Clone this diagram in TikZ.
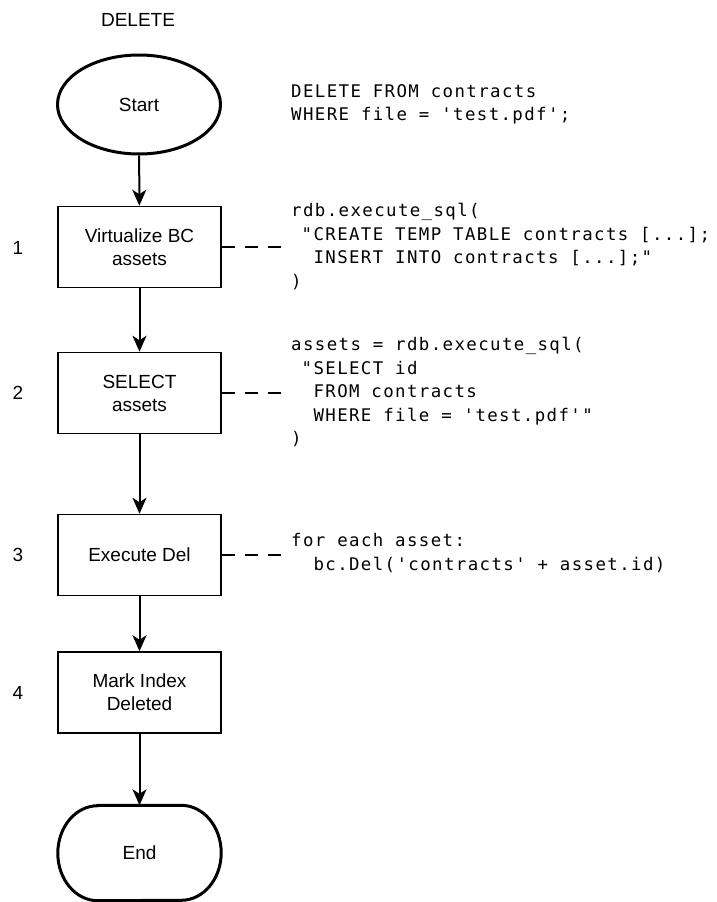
\documentclass[tikz,border=0pt]{standalone}
\usepackage{fontspec}
\setmainfont{Liberation Sans}
\setmonofont{DejaVu Sans Mono}[LetterSpace=8]
\usetikzlibrary{arrows.meta,shapes.geometric}

\begin{document}
\begin{tikzpicture}[x=1pt,y=-1pt,
  label text/.style={font=\fontsize{19}{23}\selectfont, inner sep=0pt},
  terminal/.style={draw, line width=3pt, ellipse, inner sep=0pt,
    minimum width=163pt, minimum height=99pt, font=\fontsize{19}{23}\selectfont},
  stadium/.style={rectangle, inner sep=0pt,
    minimum width=163pt, minimum height=95pt, font=\fontsize{19}{23}\selectfont},
  stadium outline/.style={line width=3pt},
  stepbox/.style={draw, line width=1.5pt, rectangle, inner sep=0pt, align=center,
    minimum width=163pt, minimum height=81pt, font=\fontsize{19}{23}\selectfont},
  codeblock/.style={anchor=west, inner sep=0pt, align=left,
    font=\ttfamily\fontsize{17.4}{23.5}\selectfont},
  flow/.style={line width=2pt, -{Stealth[length=16pt,width=14pt,inset=4.5pt]}},
  note/.style={line width=1.5pt, dash pattern=on 13pt off 10pt, shorten >=9pt},
]
\useasboundingbox (0,0) rectangle (716,902);

% title
\node[label text] (title) at (138,20) {DELETE};

% flow nodes
\node[terminal] (start) at (139,104.5) {Start};
\node[stepbox] (s1) at (139.5,247) {Virtualize BC\\assets};
\node[stepbox] (s2) at (139.5,393) {SELECT\\assets};
\node[stepbox] (s3) at (139.5,555) {Execute Del};
\node[stepbox] (s4) at (139.5,692.5) {Mark Index\\Deleted};
\node[stadium] (end) at (139.5,853) {End};
% end terminator: flat top and bottom, elliptical sides
\draw[stadium outline]
  ([xshift=40pt]end.north west) -- ([xshift=-40pt]end.north east)
  arc[start angle=90, end angle=-90, x radius=40pt, y radius=47.5pt]
  -- ([xshift=40pt]end.south west)
  arc[start angle=270, end angle=90, x radius=40pt, y radius=47.5pt]
  -- cycle;

% step numbers
\node[label text] (n1) at (18,248) {1};
\node[label text] (n2) at (18,393) {2};
\node[label text] (n3) at (18,555) {3};
\node[label text] (n4) at (18,692.5) {4};

% code snippets
\node[codeblock] (c0) at (291,104.5) {DELETE FROM contracts\\WHERE file = 'test.pdf';};
\node[codeblock] (c1) at (291,246.5) {rdb.execute\_sql(\\
\hphantom{x}"CREATE TEMP TABLE contracts [...];\\
\hphantom{xx}INSERT INTO contracts [...];"\\
)};
\node[codeblock] (c2) at (291,392) {assets = rdb.execute\_sql(\\
\hphantom{x}"SELECT id\\
\hphantom{xx}FROM contracts\\
\hphantom{xx}WHERE file = 'test.pdf'"\\
)};
\node[codeblock] (c3) at (291,553) {for each asset:\\
\hphantom{xx}bc.Del('contracts' + asset.id)};

% connectors
\draw[flow] (start) -- (s1);
\draw[flow] (s1) -- (s2);
\draw[flow] (s2) -- (s3);
\draw[flow] (s3) -- (s4);
\draw[flow] (s4) -- (end.north);

% annotations
\draw[note] (s1.east) -- (s1.east -| c1.west);
\draw[note] (s2.east) -- (s2.east -| c2.west);
\draw[note] (s3.east) -- (s3.east -| c3.west);
\end{tikzpicture}
\end{document}
